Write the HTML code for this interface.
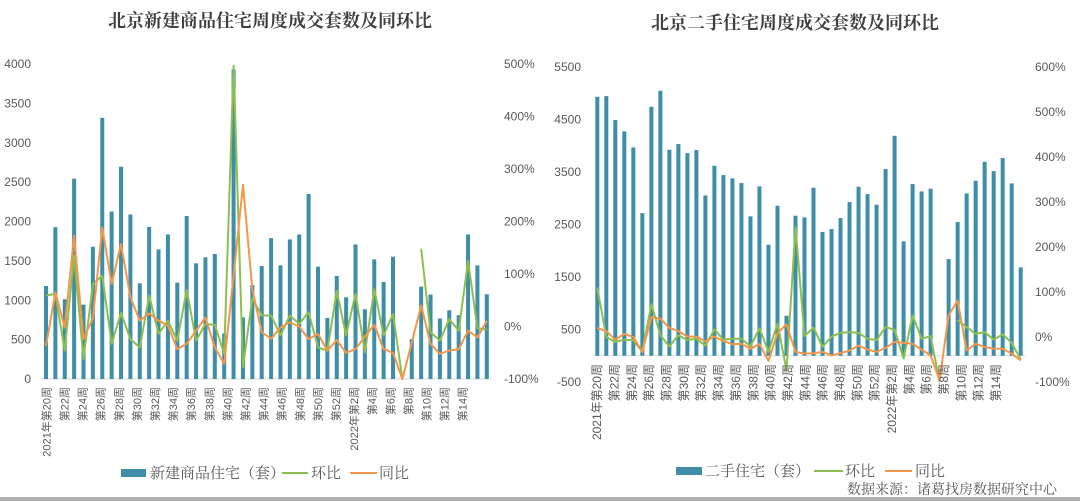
<!DOCTYPE html>
<html><head><meta charset="utf-8"><style>
html,body{margin:0;padding:0;background:#fff;}
svg{display:block;font-family:"Liberation Sans","Noto Sans CJK SC",sans-serif;}
.serif{font-family:"Liberation Serif","Noto Serif CJK SC",serif;}
</style></head><body>
<svg id="root" width="1080" height="501" viewBox="0 0 1080 501" xmlns="http://www.w3.org/2000/svg">
<rect x="0" y="0" width="1080" height="501" fill="#fff"/>
<text x="270" y="27" text-anchor="middle" font-size="18" font-weight="bold" fill="#404040" font-family="'Noto Serif CJK SC',serif">北京新建商品住宅周度成交套数及同环比</text>
<text x="795" y="29" text-anchor="middle" font-size="18" font-weight="bold" fill="#404040" font-family="'Noto Serif CJK SC',serif">北京二手住宅周度成交套数及同环比</text>
<g id="left"></g>
<g id="right"></g>
<g class="serif">
<rect x="121" y="469" width="25" height="8" fill="#3d8ea6"/>
<text x="150" y="478" font-size="15" fill="#595959">新建商品住宅（套）</text>
<line x1="282" y1="473" x2="308" y2="473" stroke="#8dbf4f" stroke-width="2"/>
<text x="311" y="478" font-size="15" fill="#595959">环比</text>
<line x1="350" y1="473" x2="377" y2="473" stroke="#f5964a" stroke-width="2"/>
<text x="379" y="478" font-size="15" fill="#595959">同比</text>
</g>
<g class="serif">
<rect x="676" y="467" width="26" height="8" fill="#3d8ea6"/>
<text x="705" y="476" font-size="15" fill="#595959">二手住宅（套）</text>
<line x1="814" y1="471" x2="843" y2="471" stroke="#8dbf4f" stroke-width="2"/>
<text x="845" y="476" font-size="15" fill="#595959">环比</text>
<line x1="885" y1="471" x2="912" y2="471" stroke="#f5964a" stroke-width="2"/>
<text x="915" y="476" font-size="15" fill="#595959">同比</text>
</g>
<text x="1057" y="494" text-anchor="end" font-size="14" fill="#595959" class="serif">数据来源：诸葛找房数据研究中心</text>
<rect x="0" y="497" width="1080" height="4" fill="#b0b0b0"/>
</svg>
<script>
const categories = ["2021年第20周","第21周","第22周","第23周","第24周","第25周","第26周","第27周","第28周","第29周","第30周","第31周","第32周","第33周","第34周","第35周","第36周","第37周","第38周","第39周","第40周","第41周","第42周","第43周","第44周","第45周","第46周","第47周","第48周","第49周","第50周","第51周","第52周","2022年第1周","2022年第2周","第3周","第4周","第5周","第6周","第7周","第8周","第9周","第10周","第11周","第12周","第13周","第14周","第15周"];
const newSales = [1181,1928,1013,2544,945,1679,3316,2127,2696,2089,1215,1932,1646,1835,1224,2070,1469,1545,1587,580,3930,783,1193,1435,1789,1443,1772,1835,2350,1426,776,1308,1038,1709,886,1519,1232,1553,0,506,1173,1072,768,873,810,1835,1443,1076];
const newMoM = [59,62,-46,135,-62,81,97,-33,26,-24,-40,59,-14,11,-27,70,-27,5,3,-52,497,-78,54,21,21,-17,21,5,27,-40,-46,68,-17,62,-49,71,-17,24,-100,null,148,-11,-27,14,-8,125,-3,-6];
const newYoY = [-37,65,-2,173,-24,16,189,81,157,56,11,25,11,2,-43,-33,-8,17,-40,-71,97,270,71,-11,-23,-2,8,0,-24,-14,-46,-26,-50,-43,-19,3,-43,-50,-100,-30,40,-33,-52,-46,-43,-8,-21,11];
const shSales = [4933,4946,4489,4273,3968,2717,4743,5048,3924,4032,3860,3917,3054,3619,3441,3378,3289,2654,3225,2114,2857,762,2667,2635,3200,2356,2413,2622,2927,3219,3079,2876,3556,4190,2178,3270,3130,3181,0,1841,2546,3092,3333,3695,3517,3765,3283,1683];
const shMoM = [110,0,-11,-6,-7,-33,73,4,-21,4,-7,-4,-19,17,-6,-4,-4,-21,19,-33,30,-74,244,2,21,-22,1,9,11,9,-4,-7,22,16,-48,48,-4,2,-100,null,37,22,7,11,-6,6,-13,-50];
const shYoY = [20,13,-6,7,0,-33,44,41,20,13,1,1,-10,1,-9,-16,-15,-26,-16,-53,9,28,-33,-37,-36,-33,-41,-36,-30,-19,-28,-33,-24,-11,-13,-15,-28,-41,-96,48,81,-30,-15,-22,-26,-26,-37,-52];
const newLeftTicks = [0,500,1000,1500,2000,2500,3000,3500,4000];
const newRightTicks = [-100,0,100,200,300,400,500];
const shLeftTicks = [-500,500,1500,2500,3500,4500,5500];
const shRightTicks = [-100,0,100,200,300,400,500,600];

const NS = "http://www.w3.org/2000/svg";
function mk(parent, tag, attrs){ const e=document.createElementNS(NS,tag); for(const k in attrs) e.setAttribute(k,attrs[k]); parent.appendChild(e); return e; }

function drawChart(g, cfg, sales, mom, yoy, lt, rt, prefix){
  const n = categories.length;
  const band = (cfg.x1 - cfg.x0)/n;
  const xC = i => cfg.x0 + band*(i+0.5);
  const yL = v => cfg.yBot - (v - cfg.lMin)/(cfg.lMax - cfg.lMin)*(cfg.yBot - cfg.yTop);
  const yR = v => cfg.yBot - (v - cfg.rMin)/(cfg.rMax - cfg.rMin)*(cfg.yBot - cfg.yTop);
  lt.forEach(t=>{
    const e = mk(g,"text",{x:cfg.lLabX,y:yL(t)+4,"text-anchor":"end","font-size":12,fill:"#595959"});
    e.textContent = t;
    
    
  });
  rt.forEach(t=>{
    const e = mk(g,"text",{x:cfg.rLabX,y:yR(t)+4,"font-size":12,fill:"#595959"});
    e.textContent = t+"%";
    
    
  });
  const base = mk(g,"line",{x1:cfg.x0,x2:cfg.x1,y1:yL(0),y2:yL(0),stroke:"#d9d9d9","stroke-width":1});
  
  
  sales.forEach((v,i)=>{
    const y = yL(v), y0 = yL(0);
    const r = mk(g,"rect",{x:xC(i)-cfg.bw/2,y:Math.min(y,y0),width:cfg.bw,height:Math.abs(y0-y),fill:"#3d8ea6"});
    
    
  });
  function line(vals, color, name){
    let d="", pen=false;
    vals.forEach((v,i)=>{
      if(v===null){pen=false;return;}
      d += (pen?"L":"M")+xC(i).toFixed(1)+" "+yR(v).toFixed(1)+" ";
      pen=true;
    });
    const p = mk(g,"path",{d:d,fill:"none",stroke:color,"stroke-width":2,"stroke-linejoin":"round"});
    
    
  }
  line(mom,"#8dbf4f",prefix+'-mom-line');
  line(yoy,"#f5964a",prefix+'-yoy-line');
  categories.forEach((c,i)=>{
    if(i%2!==0) return;
    const lx = cfg.labX0 + i*cfg.labStep + cfg.labFs*0.35;
    const e = mk(g,"text",{x:lx,y:cfg.labY,"text-anchor":"end","font-size":cfg.labFs,fill:"#595959",transform:"rotate(-90 "+lx+" "+cfg.labY+")"});
    e.textContent = c;
    
    
  });
}

drawChart(document.getElementById("left"),
  {x0:41.3,x1:491.5,yTop:64,yBot:379,lMin:0,lMax:4000,rMin:-100,rMax:500,bw:4,lLabX:31,rLabX:504,labX0:46.5,labStep:9.05,labY:387,labFs:11},
  newSales,newMoM,newYoY,newLeftTicks,newRightTicks,"new");
drawChart(document.getElementById("right"),
  {x0:592.8,x1:1025.2,yTop:67,yBot:382,lMin:-500,lMax:5500,rMin:-100,rMax:600,bw:4,lLabX:581,rLabX:1035,labX0:597,labStep:8.67,labY:364,labFs:12},
  shSales,shMoM,shYoY,shLeftTicks,shRightTicks,"sh");
</script>
</body></html>
